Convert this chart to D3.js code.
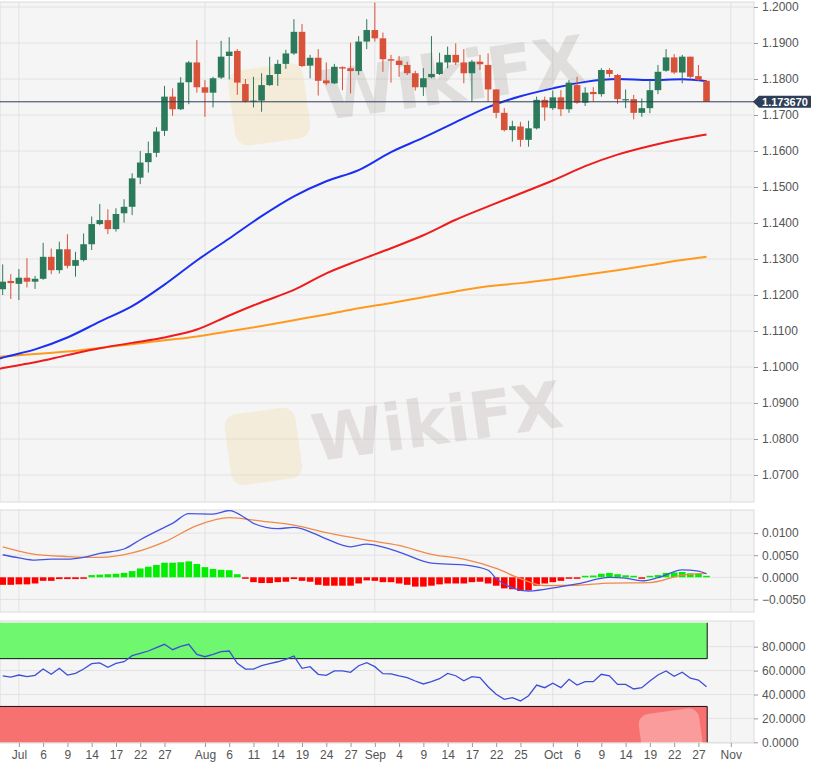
<!DOCTYPE html>
<html>
<head>
<meta charset="utf-8">
<script src="https://cdn.jsdelivr.net/npm/d3@7"></script>
<style>
  body { margin: 0; background: #fff; }
  svg { display: block; font-family: "Liberation Sans", Arial, sans-serif; }
</style>
</head>
<body>
<div id="chart"></div>
<script>
// ---- data (daily candles, index 0..87) ----
const opens = [1.1216,1.1239,1.1231,1.1248,1.1237,1.1245,1.1306,1.1269,1.1327,1.1281,
  1.1297,1.1341,1.1397,1.1408,1.1383,1.1427,1.1445,1.1526,1.1569,1.1595,
  1.1656,1.1751,1.1716,1.1791,1.1846,1.1777,1.1762,1.1804,1.1864,1.1878,
  1.1786,1.1737,1.1740,1.1783,1.1814,1.1842,1.1871,1.1931,1.1837,1.1859,
  1.1796,1.1788,1.1833,1.1830,1.1822,1.1904,1.1936,1.1913,1.1855,1.1851,
  1.1839,1.1816,1.1777,1.1805,1.1814,1.1846,1.1867,1.1846,1.1816,1.1848,
  1.1839,1.1771,1.1706,1.1658,1.1668,1.1631,1.1663,1.1742,1.1719,1.1749,
  1.1716,1.1783,1.1734,1.1764,1.1758,1.1825,1.1811,1.1742,1.1744,1.1706,
  1.1719,1.1769,1.1823,1.1860,1.1818,1.1862,1.1808,1.1795];
const highs = [1.1285,1.1258,1.1272,1.1302,1.1253,1.1345,1.1329,1.1348,1.1369,1.1320,
  1.1371,1.1418,1.1453,1.1438,1.1441,1.1466,1.1538,1.1600,1.1626,1.1666,
  1.1781,1.1774,1.1805,1.1850,1.1908,1.1797,1.1806,1.1906,1.1916,1.1883,
  1.1800,1.1806,1.1816,1.1862,1.1853,1.1881,1.1966,1.1953,1.1867,1.1883,
  1.1846,1.1842,1.1835,1.1901,1.1919,1.1966,1.2012,1.1929,1.1867,1.1864,
  1.1848,1.1823,1.1830,1.1919,1.1873,1.1890,1.1899,1.1883,1.1853,1.1867,
  1.1871,1.1772,1.1719,1.1684,1.1681,1.1684,1.1751,1.1751,1.1768,1.1769,
  1.1797,1.1806,1.1777,1.1777,1.1830,1.1830,1.1814,1.1771,1.1756,1.1746,
  1.1797,1.1839,1.1883,1.1869,1.1867,1.1862,1.1839,1.1797];
const lows = [1.1200,1.1189,1.1186,1.1221,1.1217,1.1242,1.1258,1.1260,1.1274,1.1251,
  1.1293,1.1325,1.1394,1.1369,1.1376,1.1401,1.1422,1.1508,1.1540,1.1583,
  1.1642,1.1698,1.1714,1.1730,1.1762,1.1695,1.1721,1.1800,1.1799,1.1756,
  1.1735,1.1721,1.1709,1.1781,1.1781,1.1828,1.1867,1.1833,1.1802,1.1754,
  1.1783,1.1786,1.1769,1.1760,1.1811,1.1883,1.1904,1.1820,1.1790,1.1806,
  1.1811,1.1768,1.1753,1.1802,1.1811,1.1830,1.1839,1.1788,1.1737,1.1825,
  1.1737,1.1691,1.1654,1.1626,1.1612,1.1612,1.1660,1.1684,1.1714,1.1697,
  1.1706,1.1731,1.1725,1.1737,1.1751,1.1805,1.1731,1.1719,1.1688,1.1695,
  1.1705,1.1758,1.1820,1.1814,1.1788,1.1802,1.1795,1.1737];
const closes = [1.1237,1.1233,1.1248,1.1237,1.1245,1.1306,1.1269,1.1327,1.1281,1.1297,
  1.1341,1.1397,1.1408,1.1383,1.1425,1.1445,1.1524,1.1568,1.1594,1.1654,
  1.1751,1.1716,1.1790,1.1846,1.1777,1.1762,1.1802,1.1862,1.1876,1.1790,
  1.1737,1.1740,1.1783,1.1811,1.1842,1.1871,1.1931,1.1836,1.1859,1.1795,
  1.1788,1.1834,1.1829,1.1822,1.1904,1.1936,1.1913,1.1855,1.1851,1.1839,
  1.1816,1.1777,1.1802,1.1814,1.1846,1.1867,1.1846,1.1816,1.1848,1.1841,
  1.1771,1.1706,1.1658,1.1669,1.1631,1.1663,1.1742,1.1721,1.1749,1.1716,
  1.1790,1.1734,1.1762,1.1758,1.1825,1.1814,1.1744,1.1744,1.1706,1.1719,
  1.1769,1.1820,1.1860,1.1818,1.1862,1.1806,1.1797,1.1737];
const lastPrice = 1.17367;

// moving averages, sampled at these candle indices
const maIdx = [-1,0,4,8,12,16,20,24,28,32,36,40,44,48,52,56,60,64,68,72,76,80,84,87];
const maBlue = [1.1019,1.1026,1.1049,1.1082,1.1126,1.1169,1.1229,1.1296,1.1357,1.1419,
  1.1474,1.1516,1.1547,1.1597,1.1637,1.1680,1.1722,1.1752,1.1774,1.1792,1.1800,1.1797,1.1799,1.1794];
const maRed = [1.0992,1.0997,1.1013,1.1033,1.1052,1.1067,1.1082,1.1104,1.1143,1.1180,
  1.1214,1.1260,1.1296,1.1330,1.1366,1.1409,1.1446,1.1482,1.1518,1.1558,1.1590,1.1614,1.1634,1.1646];
const maOrange = [1.1027,1.1029,1.1036,1.1043,1.1053,1.1063,1.1074,1.1085,1.1099,1.1114,
  1.1130,1.1146,1.1163,1.1178,1.1194,1.1210,1.1224,1.1233,1.1244,1.1256,1.1269,1.1283,1.1297,1.1306];

// MACD
const macdHist = [-0.0017,-0.0017,-0.0016,-0.0016,-0.0014,-0.0008,-0.0008,-0.0004,-0.0004,-0.0004,
  -0.0001,0.0005,0.0006,0.0007,0.0008,0.0010,0.0014,0.0020,0.0024,0.0028,
  0.0033,0.0033,0.0034,0.0036,0.0030,0.0023,0.0019,0.0017,0.0016,0.0007,
  -0.0002,-0.0011,-0.0013,-0.0013,-0.0011,-0.0010,-0.0004,-0.0008,-0.0010,-0.0017,
  -0.0019,-0.0019,-0.0019,-0.0019,-0.0014,-0.0007,-0.0008,-0.0011,-0.0011,-0.0014,
  -0.0017,-0.0021,-0.0021,-0.0019,-0.0016,-0.0014,-0.0014,-0.0014,-0.0011,-0.0010,
  -0.0014,-0.0019,-0.0025,-0.0027,-0.0031,-0.0029,-0.0019,-0.0014,-0.0011,-0.0008,
  -0.0002,-0.0001,0.0002,0.0004,0.0008,0.0010,0.0007,0.00045,0.0001,-0.0001,
  0.0001,0.0005,0.0010,0.0011,0.0012,0.0009,0.0008,0.0002];
const macdIdx = [0,2,4,6,8,10,12,15,17,20,21,23,26,28,30,31,34,36,38,40,43,45,46,49,
  53,57,60,61,63,65,69,71,75,77,79,81,84,86,87];
const macdLine = [0.0051,0.0044,0.0039,0.0041,0.0041,0.0045,0.0054,0.0064,0.0085,0.0113,0.0122,
  0.0144,0.0143,0.0151,0.0134,0.0122,0.0110,0.0113,0.0103,0.0087,0.0069,0.0075,0.0073,0.0057,
  0.0032,0.0028,0.0016,-0.0003,-0.0024,-0.0031,-0.0021,-0.0015,0.0000,-0.0002,-0.0008,-0.0001,
  0.0017,0.0014,0.0008];
const signalIdx = [0,4,8,12,16,20,24,28,32,36,40,45,49,53,57,61,64,67,71,75,80,84,87];
const signalLine = [0.0069,0.0052,0.0047,0.0045,0.0055,0.0080,0.0117,0.0135,0.0127,0.0118,
  0.0101,0.0084,0.0072,0.0052,0.0041,0.0020,-0.0003,-0.0019,-0.0018,-0.0013,-0.0012,0.0005,0.0009];

// RSI
const rsi = [55.5,54.6,56.3,54.9,56.0,61.3,56.9,61.9,56.3,57.7,
  61.3,65.8,66.4,62.8,66.1,67.4,72.5,74.5,76.4,79.2,
  82.0,77.5,80.3,82.0,73.6,71.6,73.6,75.8,76.4,66.1,
  61.3,61.3,64.1,65.8,67.4,69.4,72.2,61.9,63.3,56.9,
  56.0,59.7,59.7,58.6,64.1,66.6,63.3,57.4,57.2,55.5,
  54.1,51.3,48.8,50.7,53.2,57.7,55.7,51.5,54.9,54.1,
  46.5,40.2,36.0,37.3,34.6,39.0,47.9,45.7,49.4,45.7,
  52.7,47.9,50.7,50.7,56.9,55.7,48.5,48.5,44.6,45.7,
  51.3,56.3,59.7,55.2,58.6,53.6,52.1,46.5];

// axis ticks
const tickIdx = [2,5,8,11,14,17,20,25,28,31,34,37,40,43,46,49,52,55,58,61,64,68,71,74,77,80,83,86,90];
const tickLabels = ["Jul","6","9","14","17","22","27","Aug","6","11","14","19","24","27",
  "Sep","4","9","14","17","22","25","Oct","6","9","14","19","22","27","Nov"];
const monthIdx = [2,25,46,68,90];
const priceTicks = [1.07,1.08,1.09,1.10,1.11,1.12,1.13,1.14,1.15,1.16,1.17,1.18,1.19,1.20];
const macdTicks = [-0.005,0,0.005,0.01];
const rsiTicks = [0,20,40,60,80];

// ---- layout ----
const width = 818, height = 774;
const plotRight = 754;
const panels = {
  main: { top: 2, bottom: 502 },
  macd: { top: 510, bottom: 612 },
  rsi: { top: 621, bottom: 743 },
};

const svg = d3.select("#chart").append("svg")
  .attr("width", width).attr("height", height);

const xScale = d3.scaleLinear().domain([-0.334, 92.87]).range([0, plotRight]);
const yPrice = d3.scaleLinear().domain([1.07, 1.2]).range([475, 7]);
const yMacd = d3.scaleLinear().domain([-0.005, 0.01]).range([599.4, 533.1]);
const yRsi = d3.scaleLinear().domain([0, 80]).range([742.3, 646.7]);

const candles = opens.map((o, i) => ({ i, o, h: highs[i], l: lows[i], c: closes[i] }));

// panel backgrounds + clips
Object.entries(panels).forEach(([name, p]) => {
  svg.append("rect")
    .attr("x", 0).attr("y", p.top)
    .attr("width", plotRight).attr("height", p.bottom - p.top)
    .attr("fill", "#f5f5f5").attr("stroke", "#dcdcdc");
  svg.append("clipPath").attr("id", "clip-" + name)
    .append("rect").attr("x", 0).attr("y", p.top)
    .attr("width", plotRight).attr("height", p.bottom - p.top);
});

function gridlines(scale, ticks, p) {
  const g = svg.append("g");
  g.selectAll(".h").data(ticks).join("line")
    .attr("x1", 0).attr("x2", plotRight)
    .attr("y1", (d) => scale(d)).attr("y2", (d) => scale(d))
    .attr("stroke", "#e2e2e2");
  g.selectAll(".v").data(monthIdx).join("line")
    .attr("x1", (d) => xScale(d)).attr("x2", (d) => xScale(d))
    .attr("y1", p.top).attr("y2", p.bottom)
    .attr("stroke", "#e2e2e2");
}
gridlines(yPrice, priceTicks, panels.main);
gridlines(yMacd, macdTicks, panels.macd);
gridlines(yRsi, rsiTicks, panels.rsi);

// watermarks
function watermark(x, y, size, op, fill, withText) {
  const g = svg.append("g").attr("transform", `translate(${x},${y}) rotate(-8)`).attr("opacity", op);
  g.append("rect").attr("x", 0).attr("y", -size * 0.95).attr("width", size * 1.05).attr("height", size * 1.05)
    .attr("rx", size * 0.18).attr("fill", fill);
  if (withText) {
    g.append("text").attr("x", size * 1.25).attr("y", -size * 0.1)
      .attr("font-size", size * 0.95).attr("font-weight", "bold")
      .attr("font-family", "DejaVu Sans, sans-serif")
      .attr("fill", "#a89a9a").text("WikiFX");
  }
}
watermark(236, 140, 72, 0.26, "#f3d38a", true);
watermark(232, 480, 68, 0.24, "#f3d38a", true);

// moving averages
const maLine = (vals) => d3.line()
  .x((d, k) => xScale(maIdx[k]))
  .y((d) => yPrice(d))
  .curve(d3.curveMonotoneX)(vals);

const maG = svg.append("g").attr("clip-path", "url(#clip-main)");
[[maOrange, "#ff9a1f"], [maRed, "#ee1c1c"], [maBlue, "#1a2ff0"]].forEach(([vals, col]) => {
  maG.append("path").attr("d", maLine(vals))
    .attr("fill", "none").attr("stroke", col).attr("stroke-width", 2);
});

// candles
const up = "#2b7a5b", down = "#d8523a", bodyW = 6.6;
const cg = svg.append("g").selectAll("g").data(candles).join("g");
cg.append("line")
  .attr("x1", (d) => xScale(d.i)).attr("x2", (d) => xScale(d.i))
  .attr("y1", (d) => yPrice(d.h)).attr("y2", (d) => yPrice(d.l))
  .attr("stroke", (d) => (d.c >= d.o ? up : down)).attr("stroke-width", 1);
cg.append("rect")
  .attr("x", (d) => xScale(d.i) - bodyW / 2)
  .attr("y", (d) => yPrice(Math.max(d.o, d.c)))
  .attr("width", bodyW)
  .attr("height", (d) => Math.max(1.2, Math.abs(yPrice(d.o) - yPrice(d.c))))
  .attr("fill", (d) => (d.c >= d.o ? up : down));

// last price line
const yLast = yPrice(lastPrice);
svg.append("line")
  .attr("x1", 0).attr("x2", plotRight)
  .attr("y1", yLast).attr("y2", yLast)
  .attr("stroke", "#2d3e57").attr("stroke-width", 1);

// MACD histogram
svg.append("g").selectAll("rect").data(macdHist).join("rect")
  .attr("x", (d, i) => xScale(i) - bodyW / 2)
  .attr("y", (d) => (d >= 0 ? Math.min(yMacd(d), yMacd(0) - 1.5) : yMacd(0)))
  .attr("width", bodyW)
  .attr("height", (d) => Math.max(1.5, Math.abs(yMacd(d) - yMacd(0))))
  .attr("fill", (d) => (d >= 0 ? "#00ee00" : "#ff0000"));

const macdG = svg.append("g").attr("clip-path", "url(#clip-macd)");
macdG.append("path")
  .attr("d", d3.line().x((d, k) => xScale(signalIdx[k])).y((d) => yMacd(d))
    .curve(d3.curveMonotoneX)(signalLine))
  .attr("fill", "none").attr("stroke", "#f08a4b").attr("stroke-width", 1.3);
macdG.append("path")
  .attr("d", d3.line().x((d, k) => xScale(macdIdx[k])).y((d) => yMacd(d))
    .curve(d3.curveMonotoneX)(macdLine))
  .attr("fill", "none").attr("stroke", "#4454e0").attr("stroke-width", 1.3);

// RSI bands
const bandEnd = xScale(rsi.length - 1) + 0.7;
svg.append("rect")
  .attr("x", 0).attr("y", yRsi(100))
  .attr("width", bandEnd).attr("height", yRsi(70) - yRsi(100))
  .attr("fill", "#6ff76f");
svg.append("rect")
  .attr("x", 0).attr("y", yRsi(30))
  .attr("width", bandEnd).attr("height", yRsi(0) - yRsi(30))
  .attr("fill", "#f87171");
const bandEdge = svg.append("g").attr("stroke", "#111").attr("stroke-width", 1);
bandEdge.append("line").attr("x1", 0).attr("x2", bandEnd).attr("y1", yRsi(70)).attr("y2", yRsi(70));
bandEdge.append("line").attr("x1", bandEnd).attr("x2", bandEnd).attr("y1", yRsi(100)).attr("y2", yRsi(70));
bandEdge.append("line").attr("x1", 0).attr("x2", bandEnd).attr("y1", yRsi(30)).attr("y2", yRsi(30));
bandEdge.append("line").attr("x1", bandEnd).attr("x2", bandEnd).attr("y1", yRsi(30)).attr("y2", yRsi(0));

svg.append("path")
  .attr("d", d3.line().x((d, i) => xScale(i)).y((d) => yRsi(d))(rsi))
  .attr("fill", "none").attr("stroke", "#3b4fd6").attr("stroke-width", 1.3);

watermark(645, 770, 58, 0.3, "#ffffff", false);

// right axes
function rightAxis(scale, ticks) {
  const ax = svg.append("g")
    .attr("transform", `translate(${plotRight},0)`)
    .call(d3.axisRight(scale).tickValues(ticks).tickFormat(d3.format(".4f")).tickSize(4).tickPadding(4));
  ax.select(".domain").remove();
  ax.selectAll(".tick line").attr("stroke", "#999");
  ax.selectAll(".tick text").attr("fill", "#555").style("font-size", "12px")
    .style("font-family", "Liberation Sans, Arial, sans-serif");
  return ax;
}
rightAxis(yPrice, priceTicks);
rightAxis(yMacd, macdTicks);
rightAxis(yRsi, rsiTicks);

// price tag on top of axis
const tag = svg.append("g");
tag.append("path")
  .attr("d", `M${plotRight - 1},${yLast} L${plotRight + 5},${yLast - 6} L${plotRight + 57},${yLast - 6} L${plotRight + 57},${yLast + 6} L${plotRight + 5},${yLast + 6} Z`)
  .attr("fill", "#2d3e57");
tag.append("text")
  .attr("x", plotRight + 31).attr("y", yLast)
  .attr("dy", "0.36em").attr("text-anchor", "middle")
  .attr("fill", "#fff").attr("font-weight", "bold").style("font-size", "11px")
  .text(d3.format(".6f")(lastPrice));

// bottom axis
const xAxis = svg.append("g")
  .attr("transform", `translate(0,${panels.rsi.bottom})`)
  .call(d3.axisBottom(xScale).tickValues(tickIdx)
    .tickFormat((d, i) => tickLabels[i]).tickSize(4).tickPadding(3));
xAxis.select(".domain").remove();
xAxis.selectAll(".tick line").attr("stroke", "#999");
xAxis.selectAll(".tick text").attr("fill", "#555").style("font-size", "12px")
  .style("font-family", "Liberation Sans, Arial, sans-serif");
</script>
</body>
</html>
